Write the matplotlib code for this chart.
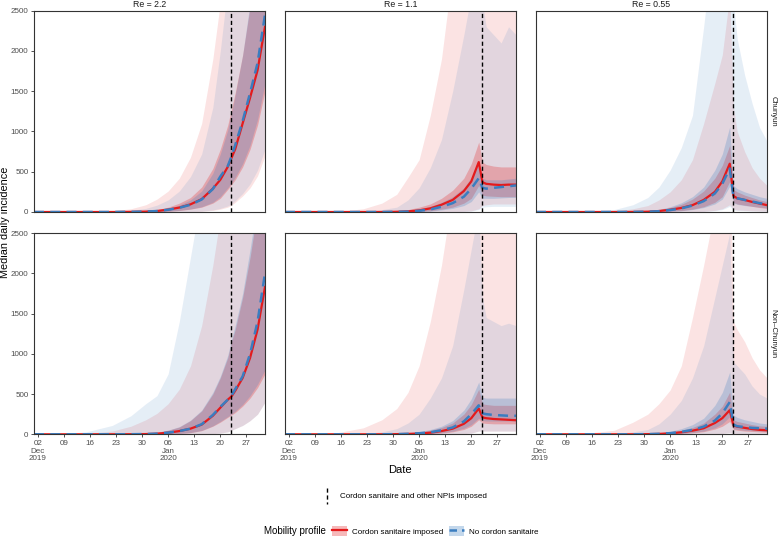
import pandas as pd
import matplotlib
matplotlib.use("Agg")
import matplotlib.pyplot as plt
from matplotlib.lines import Line2D
from matplotlib.patches import Patch
from matplotlib.legend_handler import HandlerTuple

plt.rcParams['font.family'] = ['Liberation Sans', 'DejaVu Sans']

dates = pd.to_datetime(["2019-12-01", "2019-12-08", "2019-12-15", "2019-12-22", "2019-12-27",
                        "2019-12-31", "2020-01-03", "2020-01-06", "2020-01-09", "2020-01-12",
                        "2020-01-15", "2020-01-18", "2020-01-20", "2020-01-22", "2020-01-23",
                        "2020-01-24", "2020-01-26", "2020-01-28", "2020-01-30", "2020-02-01"])
cordon_date = pd.Timestamp("2020-01-23")
tick_dates = pd.to_datetime(["2019-12-02", "2019-12-09", "2019-12-16", "2019-12-23", "2019-12-30",
                             "2020-01-06", "2020-01-13", "2020-01-20", "2020-01-27"])
tick_labels = ["02\nDec\n2019", "09", "16", "23", "30", "06\nJan\n2020", "13", "20", "27"]
col_labels = ["Re = 2.2", "Re = 1.1", "Re = 0.55"]
row_labels = ["Chunyun", "Non\u2013Chunyun"]
y_ticks = [0, 500, 1000, 1500, 2000, 2500]

# each series: median, 50% low, 50% high, 95% low, 95% high
# Chunyun, Re = 2.2
ch22_red = [[0, 0, 0, 0, 2, 5, 12, 30, 55, 95, 160, 290, 400, 560, 670, 780, 1100, 1420, 1760, 2300],
            [0, 0, 0, 0, 0, 1, 3, 8, 18, 35, 60, 110, 170, 280, 340, 400, 560, 780, 1080, 1500],
            [0, 0, 0, 2, 6, 14, 30, 60, 110, 180, 310, 540, 780, 1080, 1280, 1480, 1950, 2550, 3200, 4000],
            [0, 0, 0, 0, 0, 0, 0, 0, 1, 3, 8, 20, 35, 60, 85, 120, 200, 300, 450, 700],
            [0, 2, 5, 15, 40, 90, 160, 260, 420, 680, 1100, 1900, 2600, 3500, 4000, 4000, 4000, 4000, 4000, 4000]]
ch22_blue = [[0, 0, 0, 0, 2, 5, 12, 28, 52, 90, 155, 285, 440, 570, 690, 830, 1130, 1480, 1850, 2450],
             [0, 0, 0, 0, 0, 1, 3, 9, 20, 38, 65, 120, 190, 300, 360, 430, 600, 830, 1150, 1600],
             [0, 0, 0, 1, 4, 10, 22, 45, 85, 150, 260, 480, 720, 1020, 1230, 1450, 1950, 2600, 3300, 4000],
             [0, 0, 0, 0, 0, 0, 0, 0, 1, 4, 10, 25, 45, 75, 100, 140, 230, 350, 520, 780],
             [0, 1, 3, 8, 20, 45, 85, 150, 260, 440, 720, 1300, 2000, 2800, 3300, 3800, 4000, 4000, 4000, 4000]]
# Chunyun, Re = 1.1
ch11_red = [[0, 0, 0, 0, 0, 3, 8, 20, 45, 90, 150, 260, 380, 620, 370, 350, 340, 335, 340, 340],
            [0, 0, 0, 0, 0, 0, 2, 6, 15, 35, 60, 110, 170, 330, 210, 200, 195, 190, 190, 190],
            [0, 0, 0, 0, 5, 15, 30, 60, 100, 170, 270, 420, 600, 870, 620, 590, 570, 560, 560, 560],
            [0, 0, 0, 0, 0, 0, 0, 0, 0, 1, 3, 8, 15, 40, 80, 90, 100, 100, 100, 100],
            [0, 0, 5, 40, 110, 220, 430, 650, 1200, 1900, 3000, 4000, 4000, 4000, 4000, 4000, 4000, 4000, 4000, 4000]]
ch11_blue = [[0, 0, 0, 0, 0, 2, 5, 15, 32, 65, 110, 190, 290, 420, 300, 290, 300, 310, 320, 330],
             [0, 0, 0, 0, 0, 0, 1, 4, 10, 25, 45, 80, 130, 250, 170, 170, 170, 175, 180, 180],
             [0, 0, 0, 0, 3, 10, 20, 40, 70, 120, 190, 300, 430, 600, 420, 400, 400, 400, 410, 420],
             [0, 0, 0, 0, 0, 0, 0, 0, 0, 1, 2, 5, 10, 30, 60, 65, 70, 70, 70, 70],
             [0, 0, 0, 10, 30, 60, 150, 300, 550, 900, 1500, 2200, 2700, 3000, 2600, 2300, 2200, 2100, 2300, 2200]]
# Chunyun, Re = 0.55
ch055_red = [[0, 0, 0, 0, 1, 4, 12, 28, 50, 85, 150, 250, 380, 600, 200, 170, 150, 125, 105, 85],
             [0, 0, 0, 0, 0, 1, 3, 9, 18, 35, 65, 120, 190, 380, 120, 100, 85, 70, 55, 45],
             [0, 0, 0, 1, 4, 12, 28, 55, 95, 160, 260, 420, 580, 830, 280, 250, 210, 180, 150, 130],
             [0, 0, 0, 0, 0, 0, 0, 0, 1, 3, 8, 20, 40, 90, 30, 25, 20, 15, 12, 10],
             [0, 2, 5, 10, 40, 80, 150, 250, 400, 650, 1100, 1600, 1950, 2700, 1300, 1000, 750, 550, 420, 330]]
ch055_blue = [[0, 0, 0, 0, 1, 3, 10, 24, 45, 80, 135, 230, 350, 540, 190, 170, 150, 130, 110, 95],
              [0, 0, 0, 0, 0, 1, 2, 7, 15, 30, 55, 100, 160, 320, 110, 95, 80, 70, 60, 50],
              [0, 0, 0, 1, 5, 14, 32, 65, 115, 190, 310, 520, 720, 1060, 330, 290, 250, 220, 190, 170],
              [0, 0, 0, 0, 0, 0, 0, 0, 1, 2, 6, 15, 30, 70, 25, 20, 15, 12, 10, 8],
              [0, 3, 10, 30, 90, 180, 310, 520, 800, 1200, 2300, 3500, 4000, 4000, 2600, 2150, 1700, 1350, 1050, 880]]
# Non-Chunyun, Re = 2.2
nc22_red = [[0, 0, 0, 0, 1, 3, 8, 20, 40, 70, 120, 230, 330, 430, 470, 540, 700, 950, 1300, 1830],
            [0, 0, 0, 0, 0, 0, 1, 4, 10, 20, 45, 100, 150, 210, 240, 270, 350, 450, 580, 750],
            [0, 0, 0, 1, 4, 12, 25, 50, 90, 170, 290, 500, 700, 950, 1150, 1300, 1700, 2200, 2800, 3500],
            [0, 0, 0, 0, 0, 0, 0, 0, 0, 1, 3, 8, 15, 30, 50, 70, 110, 170, 250, 400],
            [0, 2, 10, 40, 100, 180, 260, 380, 560, 850, 1350, 2100, 2700, 3500, 4000, 4000, 4000, 4000, 4000, 4000]]
nc22_blue = [[0, 0, 0, 0, 1, 3, 8, 20, 40, 70, 125, 240, 340, 430, 480, 560, 720, 1000, 1400, 2000],
             [0, 0, 0, 0, 0, 0, 1, 4, 10, 22, 48, 105, 160, 220, 250, 285, 370, 480, 620, 800],
             [0, 0, 0, 1, 4, 12, 26, 52, 95, 175, 300, 520, 720, 980, 1180, 1350, 1750, 2300, 2900, 3600],
             [0, 0, 0, 0, 0, 0, 0, 0, 0, 1, 3, 8, 15, 30, 50, 70, 110, 170, 250, 400],
             [0, 5, 30, 110, 230, 380, 480, 750, 1400, 2200, 3000, 3800, 4000, 4000, 4000, 4000, 4000, 4000, 4000, 4000]]
# Non-Chunyun, Re = 1.1
nc11_red = [[0, 0, 0, 0, 0, 2, 5, 10, 20, 40, 70, 130, 200, 320, 210, 200, 190, 185, 180, 175],
            [0, 0, 0, 0, 0, 0, 1, 3, 7, 15, 30, 60, 100, 180, 140, 135, 130, 130, 130, 130],
            [0, 0, 0, 0, 2, 6, 14, 28, 50, 85, 140, 250, 370, 560, 380, 370, 360, 360, 360, 360],
            [0, 0, 0, 0, 0, 0, 0, 0, 0, 1, 3, 8, 15, 40, 40, 40, 40, 40, 40, 40],
            [0, 5, 20, 80, 180, 320, 520, 850, 1400, 2100, 3000, 4000, 4000, 4000, 4000, 4000, 4000, 4000, 4000, 4000]]
nc11_blue = [[0, 0, 0, 0, 0, 2, 6, 13, 25, 50, 85, 160, 250, 360, 260, 250, 240, 235, 230, 230],
             [0, 0, 0, 0, 0, 0, 1, 4, 9, 20, 38, 75, 120, 200, 170, 165, 165, 165, 165, 165],
             [0, 0, 0, 0, 3, 8, 18, 35, 60, 100, 170, 300, 440, 650, 460, 450, 450, 450, 450, 450],
             [0, 0, 0, 0, 0, 0, 0, 0, 0, 1, 3, 8, 15, 40, 40, 40, 40, 40, 40, 40],
             [0, 0, 2, 10, 30, 70, 140, 250, 450, 700, 1100, 1800, 2300, 2800, 1700, 1450, 1400, 1350, 1380, 1350]]
# Non-Chunyun, Re = 0.55
nc055_red = [[0, 0, 0, 0, 0, 2, 5, 12, 25, 45, 75, 140, 200, 300, 110, 95, 80, 65, 55, 50],
             [0, 0, 0, 0, 0, 0, 1, 4, 9, 18, 32, 65, 100, 160, 60, 50, 40, 35, 30, 25],
             [0, 0, 0, 0, 2, 6, 14, 28, 50, 85, 140, 250, 350, 525, 180, 160, 140, 120, 105, 100],
             [0, 0, 0, 0, 0, 0, 0, 0, 0, 1, 2, 5, 10, 20, 10, 8, 6, 5, 4, 4],
             [0, 5, 15, 50, 150, 250, 380, 550, 850, 1450, 2100, 2800, 3500, 3500, 1400, 1300, 1150, 950, 800, 700]]
nc055_blue = [[0, 0, 0, 0, 0, 2, 6, 14, 30, 55, 95, 170, 260, 400, 120, 100, 90, 80, 75, 70],
              [0, 0, 0, 0, 0, 0, 1, 5, 11, 22, 40, 80, 130, 220, 70, 60, 50, 45, 40, 35],
              [0, 0, 0, 0, 3, 8, 18, 38, 70, 120, 200, 360, 520, 775, 240, 210, 180, 160, 140, 130],
              [0, 0, 0, 0, 0, 0, 0, 0, 0, 1, 2, 5, 10, 20, 10, 8, 6, 5, 4, 4],
              [0, 0, 2, 10, 30, 60, 130, 250, 420, 700, 1100, 1700, 2100, 2500, 900, 850, 750, 600, 500, 450]]

panels = [[(ch22_red, ch22_blue), (ch11_red, ch11_blue), (ch055_red, ch055_blue)],
          [(nc22_red, nc22_blue), (nc11_red, nc11_blue), (nc055_red, nc055_blue)]]

red = '#E41A1C'
blue = '#3A7DC0'

W, H = 778, 539
fig = plt.figure(figsize=(W / 100, H / 100), dpi=100)
lefts = [34, 285, 536]
tops = [10.7, 233]
pw, ph = 231, 201.3

for r in range(2):
    for c in range(3):
        ax = fig.add_axes([lefts[c] / W, 1 - (tops[r] + ph) / H, pw / W, ph / H])
        red_s, blue_s = panels[r][c]
        ax.fill_between(dates, red_s[3], red_s[4], color=red, alpha=0.12, lw=0)
        ax.fill_between(dates, blue_s[3], blue_s[4], color=blue, alpha=0.13, lw=0)
        ax.fill_between(dates, red_s[1], red_s[2], color=red, alpha=0.26, lw=0)
        ax.fill_between(dates, blue_s[1], blue_s[2], color=blue, alpha=0.24, lw=0)
        ax.plot(dates, red_s[0], color=red, lw=1.6)
        ax.plot(dates, blue_s[0], color=blue, lw=1.8, dashes=(4, 2.5))
        ax.axvline(cordon_date, color='black', lw=1, dashes=(3, 2))
        ax.set_xlim(pd.Timestamp("2019-12-01"), pd.Timestamp("2020-02-01"))
        ax.set_ylim(0, 2500)
        ax.set_xticks(tick_dates)
        ax.set_yticks(y_ticks)
        for s in ax.spines.values():
            s.set_color('#333333')
            s.set_linewidth(0.8)
        ax.tick_params(length=2.5, width=0.6, color='#333333', labelsize=5.8,
                       labelcolor='#4D4D4D', pad=1.5)
        if r == 1:
            ax.set_xticklabels(tick_labels, linespacing=1.15)
        else:
            ax.tick_params(axis='x', length=0, labelbottom=False)
        if c != 0:
            ax.tick_params(axis='y', length=0, labelleft=False)
        if r == 0:
            fig.text((lefts[c] + pw / 2) / W, 1 - 4.5 / H, col_labels[c],
                     ha='center', va='center', fontsize=6.3, color='#1A1A1A')
        if c == 2:
            fig.text(773 / W, 1 - (tops[r] + ph / 2) / H, row_labels[r], rotation=270,
                     ha='center', va='center', fontsize=5.6, color='#1A1A1A')

fig.text(5.5 / W, 1 - 222 / H, "Median daily incidence", rotation=90, ha='center', va='center', fontsize=7.8)
fig.text(400 / W, 1 - 470 / H, "Date", ha='center', va='center', fontsize=8)

# legend: cordon line
fig.add_artist(Line2D([327 / W, 327 / W], [1 - 488 / H, 1 - 504 / H], color='black', lw=1, dashes=(3, 2)))
fig.text(340 / W, 1 - 497 / H, "Cordon sanitaire and other NPIs imposed", ha='left', va='center', fontsize=5.8)

# legend: mobility profile
fig.text(264 / W, 1 - 531 / H, "Mobility profile", ha='left', va='center', fontsize=7)
h_red = (Patch(facecolor=red, alpha=0.3, edgecolor='none'), Line2D([], [], color=red, lw=1.6))
h_blue = (Patch(facecolor=blue, alpha=0.3, edgecolor='none'), Line2D([], [], color=blue, lw=1.8, dashes=(3, 2)))
fig.legend([h_red, h_blue], ["Cordon sanitaire imposed", "No cordon sanitaire"],
           handler_map={tuple: HandlerTuple(ndivide=1, pad=0)},
           loc='center left', bbox_to_anchor=(332 / W, 1 - 531 / H), ncol=2, frameon=False,
           fontsize=5.8, handlelength=1.9, handleheight=1.6, handletextpad=0.6,
           columnspacing=0.65, borderpad=0, borderaxespad=0)

fig.savefig("out.png", dpi=100)
